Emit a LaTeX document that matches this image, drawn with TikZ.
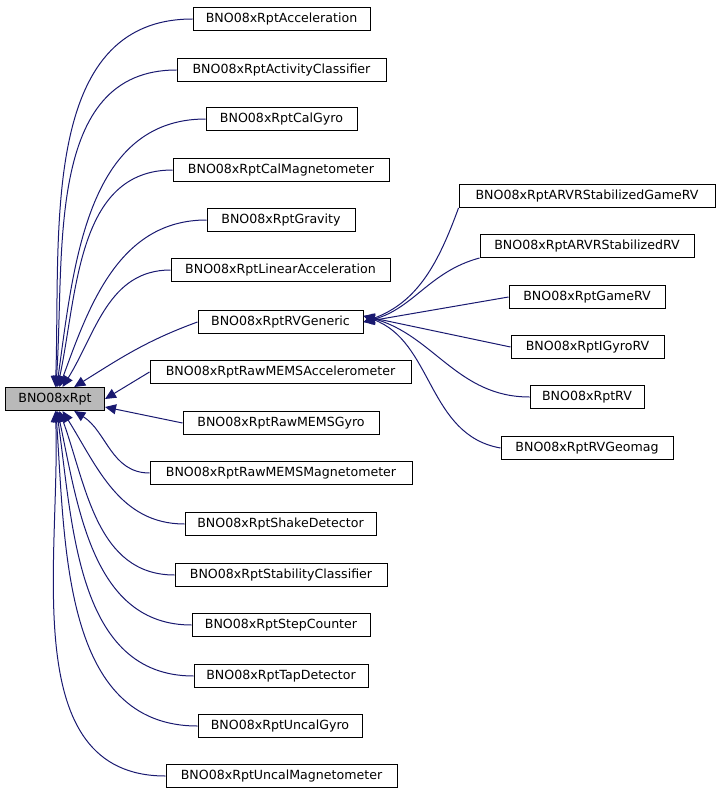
\documentclass[tikz,border=0pt]{standalone}
\usepackage{fontspec}
\setmainfont{DejaVu Sans}
\usetikzlibrary{arrows.meta}
\definecolor{edgec}{HTML}{191970}
\begin{document}
\begin{tikzpicture}[x=1pt,y=-1pt,
  box/.style={draw=black,fill=white,line width=1pt,minimum height=23pt,inner sep=0pt,font=\fontsize{12.6}{14}\selectfont},
  edge/.style={draw=edgec,line width=1pt,{Triangle[length=11pt,width=10pt]}-}]
\useasboundingbox (0,0) rectangle (720,797);
\node[box,fill=gray!55,minimum width=99pt] (root) at (55,399) {BNO08xRpt};
\newcommand\bx[4]{\node[box,minimum width=#3pt] (#1) at (#2) {#4};}
\bx{a}{281.5,19}{177}{BNO08xRptAcceleration}
\bx{b}{281.5,70}{209}{BNO08xRptActivityClassifier}
\bx{c}{281.5,119}{151}{BNO08xRptCalGyro}
\bx{d}{281,170}{216}{BNO08xRptCalMagnetometer}
\bx{e}{281,220}{148}{BNO08xRptGravity}
\bx{f}{280.5,270}{219}{BNO08xRptLinearAcceleration}
\bx{g}{280.5,322}{165}{BNO08xRptRVGeneric}
\bx{h}{280.5,372}{261}{BNO08xRptRawMEMSAccelerometer}
\bx{i}{281,423}{196}{BNO08xRptRawMEMSGyro}
\bx{j}{281,473}{262}{BNO08xRptRawMEMSMagnetometer}
\bx{k}{280.5,524}{191}{BNO08xRptShakeDetector}
\bx{l}{281,575}{212}{BNO08xRptStabilityClassifier}
\bx{m}{281,625}{178}{BNO08xRptStepCounter}
\bx{n}{281,676}{174}{BNO08xRptTapDetector}
\bx{o}{280,726}{164}{BNO08xRptUncalGyro}
\bx{p}{281.5,776}{231}{BNO08xRptUncalMagnetometer}
\bx{q}{587,196}{256}{BNO08xRptARVRStabilizedGameRV}
\bx{r}{587,246}{214}{BNO08xRptARVRStabilizedRV}
\bx{s}{587,297}{156}{BNO08xRptGameRV}
\bx{t}{587.5,347}{153}{BNO08xRptIGyroRV}
\bx{u}{587,397}{114}{BNO08xRptRV}
\bx{v}{587,448}{172}{BNO08xRptRVGeomag}
% edges to root
\draw[edge] (root) to[out=88,in=180] (a.west);
\draw[edge] (root) to[out=86,in=180] (b.west);
\draw[edge] (root) to[out=82,in=180] (c.west);
\draw[edge] (root) to[out=78,in=180] (d.west);
\draw[edge] (root) to[out=70,in=180] (e.west);
\draw[edge] (root) to[out=58,in=180] (f.west);
\draw[edge] (root) to[out=32,in=200] (g.west);
\draw[edge] (root.east) -- (h.west);
\draw[edge] (root.east) ++(0,8) -- (i.west);
\draw[edge] (root) to[out=-32,in=180] (j.west);
\draw[edge] (root) to[out=-58,in=180] (k.west);
\draw[edge] (root) to[out=-70,in=180] (l.west);
\draw[edge] (root) to[out=-78,in=180] (m.west);
\draw[edge] (root) to[out=-82,in=180] (n.west);
\draw[edge] (root) to[out=-86,in=180] (o.west);
\draw[edge] (root) to[out=-88,in=180] (p.west);
% edges to RVGeneric
\draw[edge] (g.east) to[out=20,in=250] (q.south west);
\draw[edge] (g.east) to[out=15,in=195] (r.south west);
\draw[edge] (g.east) -- (s.west);
\draw[edge] ([yshift=6pt]g.east) -- (t.west);
\draw[edge] ([yshift=6pt]g.east) to[out=-15,in=180] (u.west);
\draw[edge] ([yshift=6pt]g.east) to[out=-20,in=170] (v.west);
\end{tikzpicture}
\end{document}
